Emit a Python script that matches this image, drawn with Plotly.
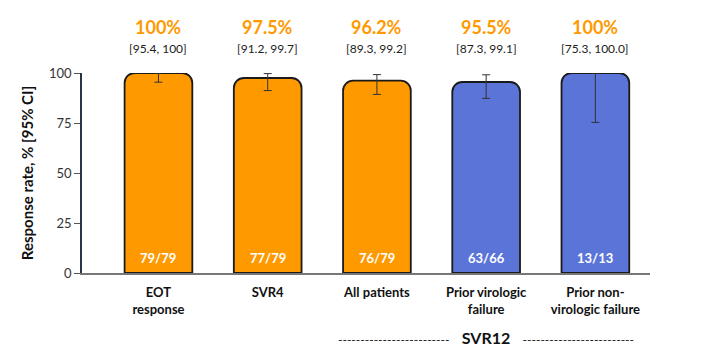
import plotly.graph_objects as go

categories = ["EOT<br>response", "SVR4", "All patients", "Prior virologic<br>failure", "Prior non-<br>virologic failure"]
rates = [100, 97.5, 96.2, 95.5, 100]
ci_low = [95.4, 91.2, 89.3, 87.3, 75.3]
ci_high = [100, 99.7, 99.2, 99.1, 100]
rate_labels = ["100%", "97.5%", "96.2%", "95.5%", "100%"]
ci_labels = ["[95.4, 100]", "[91.2, 99.7]", "[89.3, 99.2]", "[87.3, 99.1]", "[75.3, 100.0]"]
counts = ["79/79", "77/79", "76/79", "63/66", "13/13"]
group_label = "SVR12"
colors_by_bar = ["#FF9900", "#FF9900", "#FF9900", "#5B74D8", "#5B74D8"]

xs = list(range(len(categories)))
FONT = "Lato, 'Open Sans', sans-serif"

fig = go.Figure()
fig.add_trace(go.Bar(
    x=xs, y=rates, width=0.62,
    marker=dict(color=colors_by_bar, line=dict(color="#1a1a1a", width=1.8)),
    error_y=dict(type="data", symmetric=False,
                 array=[h - r for h, r in zip(ci_high, rates)],
                 arrayminus=[r - l for r, l in zip(rates, ci_low)],
                 color="#333333", thickness=1, width=4),
    hoverinfo="skip",
))

ann = []
for x, rl, cl, c in zip(xs, rate_labels, ci_labels, counts):
    ann.append(dict(x=x, y=1.23, xref="x", yref="paper", yanchor="middle", text=f"<b>{rl}</b>", showarrow=False,
                    font=dict(family=FONT, size=18, color="#FF9900")))
    ann.append(dict(x=x, y=1.125, xref="x", yref="paper", yanchor="middle", text=cl, showarrow=False,
                    font=dict(family=FONT, size=12, color="#222222")))
    ann.append(dict(x=x, y=7.5, xref="x", yref="y", yanchor="middle", text=f"<b>{c}</b>", showarrow=False,
                    font=dict(family=FONT, size=13, color="white")))

dashes = "-" * 25
ann.append(dict(x=3, y=-0.32, xref="x", yref="paper", yanchor="middle",
                text=f"<span style='font-size:12px'>{dashes}</span>   <b>{group_label}</b>   <span style='font-size:12px'>{dashes}</span>",
                showarrow=False, font=dict(family=FONT, size=16, color="#111111")))

fig.update_layout(
    width=703, height=354,
    margin=dict(l=82, r=53, t=73, b=81),
    plot_bgcolor="white", paper_bgcolor="white",
    barcornerradius=10,
    showlegend=False,
    annotations=ann,
    font=dict(family=FONT, color="#111111"),
)
fig.update_xaxes(range=[-0.7, 4.5], tickvals=xs, ticktext=[f"<b>{c}</b>" for c in categories],
                 showline=True, linecolor="#777777", linewidth=2, ticks="", ticklabelstandoff=6,
                 tickfont=dict(family=FONT, size=13, color="#111111"), showgrid=False, zeroline=False)
fig.update_yaxes(range=[0, 100], tickvals=[0, 25, 50, 75, 100],
                 showline=True, linecolor="#2b3447", linewidth=1.5, ticks="outside", ticklen=6,
                 tickcolor="#555555", tickfont=dict(family=FONT, size=13, color="#333333"),
                 showgrid=False, zeroline=False,
                 title=dict(text="<b>Response rate, % [95% CI]</b>", font=dict(family=FONT, size=15, color="#111111"), standoff=12))

fig.write_html("out.html")
